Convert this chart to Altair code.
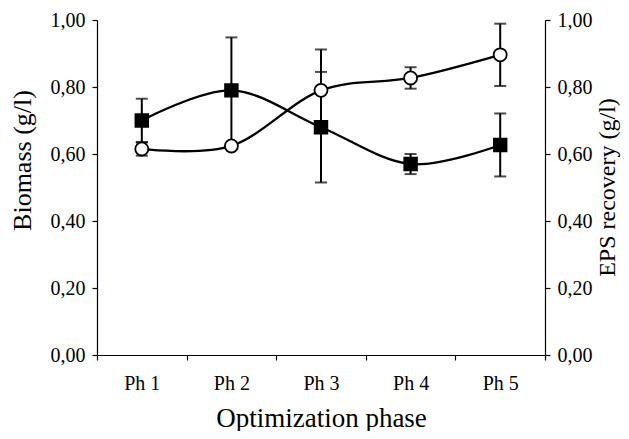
import altair as alt
import pandas as pd

phases = ["Ph 1", "Ph 2", "Ph 3", "Ph 4", "Ph 5"]
biomass = [0.70, 0.79, 0.68, 0.57, 0.627]
biomass_err = [0.065, 0.158, 0.165, 0.03, 0.094]
eps = [0.615, 0.624, 0.79, 0.827, 0.896]
eps_err = [0.02, 0.0, 0.122, 0.032, 0.093]

FONT = "Liberation Serif"
LABEL_EXPR = "replace(format(datum.value, '.2f'), '.', ',')"
Y_TICKS = [0, 0.2, 0.4, 0.6, 0.8, 1.0]

df_b = pd.DataFrame({
    "phase": phases, "v": biomass,
    "lo": [v - e for v, e in zip(biomass, biomass_err)],
    "hi": [v + e for v, e in zip(biomass, biomass_err)],
})
df_e = pd.DataFrame({
    "phase": phases, "v": eps,
    "lo": [v - e for v, e in zip(eps, eps_err)],
    "hi": [v + e for v, e in zip(eps, eps_err)],
})

x_axis = alt.Axis(
    title="Optimization phase", labelAngle=0, tickBand="extent",
    labelFontSize=20, labelPadding=13,
    titleFontSize=27, titlePadding=12,
)
x_enc = alt.X(
    "phase:N", sort=phases,
    scale=alt.Scale(paddingInner=0, paddingOuter=0),
    axis=x_axis,
)


def make_layer(df, y_axis, shape, fill, size):
    y_scale = alt.Scale(domain=[0, 1])
    base = alt.Chart(df)
    line = base.mark_line(interpolate="cardinal", color="black", strokeWidth=2.3).encode(
        x=x_enc, y=alt.Y("v:Q", scale=y_scale, axis=y_axis)
    )
    rule = base.mark_rule(color="black", strokeWidth=2).encode(
        x=x_enc, y=alt.Y("lo:Q", scale=y_scale, axis=y_axis), y2="hi:Q"
    )
    cap_lo = base.mark_tick(color="black", size=12, thickness=2).encode(
        x=x_enc, y=alt.Y("lo:Q", scale=y_scale, axis=y_axis)
    )
    cap_hi = base.mark_tick(color="black", size=12, thickness=2).encode(
        x=x_enc, y=alt.Y("hi:Q", scale=y_scale, axis=y_axis)
    )
    pts = base.mark_point(shape=shape, filled=True, fill=fill, stroke="black",
                          strokeWidth=1.8, opacity=1, size=size).encode(
        x=x_enc, y=alt.Y("v:Q", scale=y_scale, axis=y_axis)
    )
    return alt.layer(line, rule, cap_lo, cap_hi, pts)


left_axis = alt.Axis(
    title="Biomass (g/l)", orient="left", values=Y_TICKS, labelExpr=LABEL_EXPR,
    labelFontSize=20, labelPadding=7,
    titleFontSize=26, titleAngle=270, titleBaseline="middle",
    titleX=-75, titleY=140,
)
right_axis = alt.Axis(
    title="EPS recovery (g/l)", orient="right", values=Y_TICKS, labelExpr=LABEL_EXPR,
    labelFontSize=20, labelPadding=7,
    titleFontSize=24, titleAngle=270, titleBaseline="middle",
    titleX=62, titleY=167,
)

left = make_layer(df_b, left_axis, "square", "black", 160)
right = make_layer(df_e, right_axis, "circle", "white", 170)

chart = alt.layer(left, right).resolve_scale(y="independent").properties(
    width=448, height=335,
    autosize=alt.AutoSizeParams(type="none"),
    padding={"left": 89, "top": 12, "right": 76, "bottom": 76},
    background="white",
).configure_view(stroke=None).configure_axis(
    labelFont=FONT, titleFont=FONT, labelColor="black", titleColor="black",
    titleFontWeight="normal", domainColor="black", tickColor="black",
    tickSize=5, grid=False, domainWidth=1.2, tickWidth=1.2,
)

chart.save("out.html", embed_options={"renderer": "svg", "actions": False})
